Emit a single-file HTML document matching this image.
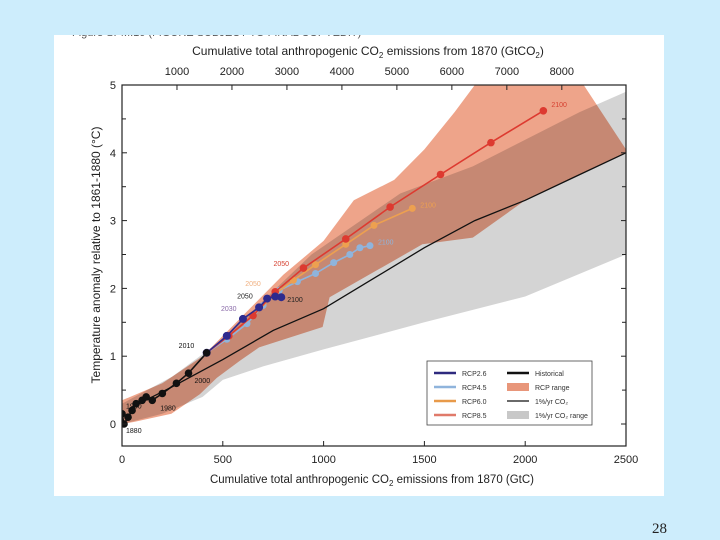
<!DOCTYPE html>
<html><head><meta charset="utf-8"><style>
body{margin:0;width:720px;height:540px;background:#cdedfc;overflow:hidden;font-family:"Liberation Sans",sans-serif;}
#card{position:absolute;left:54px;top:35px;width:610px;height:461px;background:#fff;}
#pg{position:absolute;left:652px;top:521px;font-family:"Liberation Serif",serif;font-size:15px;color:#222;}
svg{position:absolute;left:0;top:0;}
</style></head><body>
<div id="card"></div>
<div id="pg">28</div>
<svg id="chart" width="720" height="540"></svg>
<script>
// data arrays (x: GtC, y: °C)
const histX=[0,10,30,50,70,100,120,150,200,270,330,420];
const histY=[0.15,0,0.1,0.2,0.3,0.35,0.4,0.35,0.45,0.6,0.75,1.05];
const r26X=[420,520,600,680,720,760,790];
const r26Y=[1.05,1.3,1.55,1.72,1.85,1.88,1.87];
const r45X=[420,520,620,700,780,870,960,1050,1130,1180,1230];
const r45Y=[1.05,1.25,1.48,1.75,1.97,2.1,2.22,2.38,2.5,2.6,2.63];
const r60X=[420,530,650,760,850,960,1110,1250,1440];
const r60Y=[1.05,1.3,1.6,1.92,2.12,2.35,2.65,2.93,3.18];
const r85X=[420,530,650,760,900,1110,1330,1580,1830,2090];
const r85Y=[1.05,1.3,1.6,1.95,2.3,2.73,3.2,3.68,4.15,4.62];
const pctX=[50,250,500,750,1000,1250,1500,1750,2000,2250,2500];
const pctY=[0.25,0.55,0.95,1.38,1.7,2.15,2.6,3.0,3.3,3.65,4.0];
const greyUpX=[0,250,500,940,1380,1740,2270,2500];
const greyUpY=[0.3,0.7,1.25,2.5,3.4,3.8,4.6,4.9];
const greyLoX=[2500,2000,1500,1000,700,500,400,200,0];
const greyLoY=[2.5,1.88,1.5,1.1,0.85,0.65,0.4,0.15,0.0];
const rcpUpX=[0,200,400,600,800,1000,1150,1350,1500,1650,1750,2290,2500];
const rcpUpY=[0.35,0.6,1.0,1.6,2.2,2.7,3.3,3.6,4.05,4.6,5.0,5.0,4.05];
const rcpLoX=[2500,2000,1740,1490,1260,1030,995,680,584,470,386,245,58,0];
const rcpLoY=[4.0,3.3,2.75,2.65,2.26,1.87,1.43,1.13,0.93,0.68,0.44,0.15,0.03,0.0];
const xTicks=[0,500,1000,1500,2000,2500];
const topTicks=[1000,2000,3000,4000,5000,6000,7000,8000];
const yTicks=[0,1,2,3,4,5];
const legendItems=[["RCP2.6","#2e2a7e","line"],["RCP4.5","#8fb4dc","line"],["RCP6.0","#e89a4a","line"],["RCP8.5","#e07a6a","line"],["Historical","#111","line"],["RCP range","#e8967a","box"],["1%/yr CO\u2082","#111","thin"],["1%/yr CO\u2082 range","#c8c8c8","box"]];

const L=122,R=626,T=85,B=446,Y0=424,PX=(R-L)/2500,PY=(Y0-T)/5;
const sx=v=>L+v*PX, sy=v=>Y0-v*PY;
const svg=document.getElementById('chart');
const NS='http://www.w3.org/2000/svg';
function mk(tag,at,parent){const e=document.createElementNS(NS,tag);for(const k in at)e.setAttribute(k,at[k]);(parent||svg).appendChild(e);return e;}
function pts(xs,ys){return xs.map((x,i)=>sx(x).toFixed(1)+','+sy(ys[i]).toFixed(1));}

let e;
e=mk('defs',{});
e.innerHTML='<clipPath id="cp"><rect x="'+L+'" y="'+T+'" width="'+(R-L)+'" height="'+(B-T)+'"/></clipPath><clipPath id="cc"><rect x="54" y="35" width="610" height="461"/></clipPath>';
e=mk('text',{x:72,y:36,'font-size':11,fill:'#555','clip-path':'url(#cc)'});
e.textContent='Figure SPM.10 (FIGURE SUBJECT TO FINAL COPYEDIT)';


const g=mk('g',{'clip-path':'url(#cp)'});
e=mk('polygon',{points:pts(greyUpX,greyUpY).concat(pts(greyLoX,greyLoY)).join(' '),fill:'#d4d4d4'},g);


e=mk('polygon',{points:pts(rcpUpX,rcpUpY).concat(pts(rcpLoX,rcpLoY)).join(' '),fill:'#eea48a',style:'mix-blend-mode:multiply'},g);


e=mk('polyline',{points:pts(pctX,pctY).join(' '),fill:'none',stroke:'#111','stroke-width':1.3},g);


function series(xs,ys,col,name,r){
  const s=mk('g',{},g);
  
  
  mk('polyline',{points:pts(xs,ys).join(' '),fill:'none',stroke:col,'stroke-width':1.6},s);
  xs.forEach((x,i)=>{const c=mk('circle',{cx:sx(x),cy:sy(ys[i]),r:r,fill:col},s);
    
    });
}
series(r45X,r45Y,'#8fb4dc','rcp45-series',3.5);
series(r60X,r60Y,'#eda050','rcp60-series',3.5);
series(r85X,r85Y,'#dd3a30','rcp85-series',3.8);
series(r26X,r26Y,'#2e2a8e','rcp26-series',4);
series(histX,histY,'#111','historical-series',3.8);
// year labels
[[420,1.05,'2010',-28,-5,'#111'],[330,0.75,'2000',6,10,'#111'],[150,0.35,'1980',8,10,'#111'],[20,0.3,'1950',0,5,'#111'],[10,0,'1880',2,9,'#111'],
 [600,1.55,'2030',-22,-8,'#8a6aa8'],[720,1.85,'2050',-30,0,'#222'],[790,1.87,'2100',6,5,'#222'],[760,1.95,'2050',-30,-6,'#f0b080'],[900,2.3,'2050',-30,-2,'#d64030'],
 [2090,4.62,'2100',8,-4,'#d64030'],[1440,3.18,'2100',8,-1,'#eda050'],[1230,2.63,'2100',8,-1,'#8fb4dc']].forEach(a=>{
  e=mk('text',{x:sx(a[0])+a[3],y:sy(a[1])+a[4],'font-size':7,fill:a[5]});e.textContent=a[2];
  
  
});
// frame
e=mk('rect',{x:L,y:T,width:R-L,height:B-T,fill:'none',stroke:'#222','stroke-width':1.2});


xTicks.forEach(v=>{mk('line',{x1:sx(v),x2:sx(v),y1:B,y2:B-5,stroke:'#222'});
  e=mk('text',{x:sx(v),y:B+17,'font-size':11,'text-anchor':'middle',fill:'#222'});e.textContent=v;
  
  });
topTicks.forEach(v=>{const x=sx(v/3.667);mk('line',{x1:x,x2:x,y1:T,y2:T+5,stroke:'#222'});
  e=mk('text',{x:x,y:T-10,'font-size':11,'text-anchor':'middle',fill:'#222'});e.textContent=v;
  
  });
yTicks.forEach(v=>{mk('line',{x1:L,x2:L+5,y1:sy(v),y2:sy(v),stroke:'#222'});mk('line',{x1:R,x2:R-5,y1:sy(v),y2:sy(v),stroke:'#222'});
  if(v<5){mk('line',{x1:L,x2:L+4,y1:sy(v+0.5),y2:sy(v+0.5),stroke:'#222'});mk('line',{x1:R,x2:R-4,y1:sy(v+0.5),y2:sy(v+0.5),stroke:'#222'});}
  e=mk('text',{x:L-6,y:sy(v)+4,'font-size':11,'text-anchor':'end',fill:'#222'});e.textContent=v;
  
  });
e=mk('text',{x:372,y:483,'font-size':11.5,'text-anchor':'middle',fill:'#222'});
e.innerHTML='Cumulative total anthropogenic CO<tspan font-size="8" dy="3">2</tspan><tspan dy="-3"> emissions from 1870 (GtC)</tspan>';


e=mk('text',{x:368,y:55,'font-size':12,'text-anchor':'middle',fill:'#222'});
e.innerHTML='Cumulative total anthropogenic CO<tspan font-size="8" dy="3">2</tspan><tspan dy="-3"> emissions from 1870 (GtCO</tspan><tspan font-size="8" dy="3">2</tspan><tspan dy="-3">)</tspan>';


e=mk('text',{x:0,y:0,'font-size':12,'text-anchor':'middle',fill:'#222',transform:'translate(100,255) rotate(-90)'});
e.textContent='Temperature anomaly relative to 1861-1880 (°C)';


// legend
const lg=mk('g',{});


mk('rect',{x:427,y:361,width:165,height:64,fill:'#fff',stroke:'#444','stroke-width':0.8},lg);
legendItems.forEach((it,i)=>{
  const col=i<4?0:1, row=i%4, x=col?507:434, y=373+row*14;
  const eg=mk('g',{},lg);
  
  
  if(it[2]=='box')mk('rect',{x:x,y:y-4,width:22,height:8,fill:it[1]},eg);
  else mk('line',{x1:x,x2:x+22,y1:y,y2:y,stroke:it[1],'stroke-width':it[2]=='thin'?1.2:2.5},eg);
  const t=mk('text',{x:x+28,y:y+3,'font-size':7,fill:'#333'},eg);t.textContent=it[0];
});
</script>
</body></html>
